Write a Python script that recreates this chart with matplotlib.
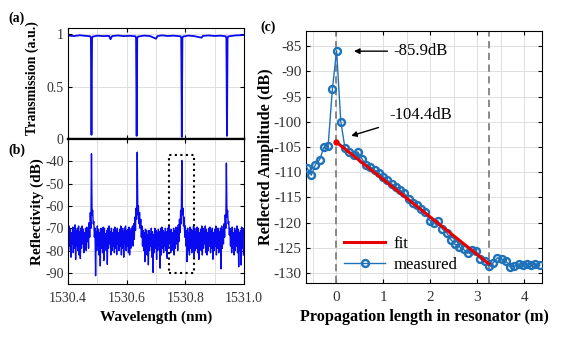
import matplotlib.pyplot as plt
from matplotlib.patches import Rectangle
from matplotlib.ticker import MultipleLocator, NullFormatter

plt.rcParams['font.family'] = ['Liberation Serif', 'DejaVu Serif']
plt.rcParams['axes.unicode_minus'] = False
plt.rcParams['xtick.direction'] = 'in'
plt.rcParams['ytick.direction'] = 'in'

# ---- (a) transmission spectrum ----
trans_wl = [1530.400, 1530.420, 1530.440, 1530.460, 1530.476, 1530.478, 1530.480, 1530.482,
            1530.484, 1530.500, 1530.520, 1530.540, 1530.545, 1530.550, 1530.570, 1530.590,
            1530.610, 1530.630, 1530.632, 1530.634, 1530.636, 1530.638, 1530.660, 1530.680,
            1530.700, 1530.705, 1530.720, 1530.740, 1530.760, 1530.784, 1530.786, 1530.788,
            1530.790, 1530.792, 1530.810, 1530.830, 1530.855, 1530.860, 1530.880, 1530.900,
            1530.920, 1530.938, 1530.940, 1530.942, 1530.944, 1530.946, 1530.970, 1531.000]
trans = [0.985, 0.980, 0.988, 0.982, 0.978, 0.96, 0.04, 0.96,
         0.975, 0.984, 0.980, 0.982, 0.95, 0.980, 0.986, 0.980,
         0.983, 0.978, 0.96, 0.03, 0.96, 0.975, 0.985, 0.980,
         0.955, 0.980, 0.987, 0.981, 0.984, 0.978, 0.96, 0.02,
         0.96, 0.976, 0.985, 0.980, 0.965, 0.982, 0.986, 0.981,
         0.984, 0.978, 0.96, 0.03, 0.96, 0.977, 0.986, 0.990]

# ---- (b) reflection spectrum: upper / lower excursion per 4 pm bin ----
refl_start = 1530.400
refl_step = 0.004
refl_top = [-71, -69, -70.5, -72, -69.5, -70, -68.5, -71, -70, -69,
            -71.5, -70, -69, -70.5, -72, -70, -69.5, -71, -67.5, -63,
            -36.6, -62, -67, -70, -71.5,
            -69, -70.5, -72, -70, -71, -69.5, -70, -72.5, -71, -70, -69, -71.5, -70, -72, -70.5,
            -69.5, -71, -70, -72, -70.5, -69, -70, -71.5, -70, -69, -71, -70.5, -69.5, -71, -70,
            -69, -68, -65, -61, -35.9, -60, -63, -66, -69, -71,
            -72, -70.5, -71, -73, -71, -72.5, -70, -71.5, -73, -70, -71, -72, -70.5, -71.5, -70,
            -69.5, -71, -72, -70, -71.5, -70, -69, -71, -70.5, -72, -70, -71, -69.5, -70, -68.5,
            -66, -62, -39.6, -61, -65,
            -69, -71, -70, -72, -69.5, -70.5, -71, -69, -70, -71.5, -69.5, -70, -72, -70.5, -69,
            -70, -71.5, -69, -70.5, -72, -70, -69.5, -71, -70, -72, -70.5, -69, -71, -70, -71.5,
            -70, -69, -71, -68, -64,
            -40.8,
            -62, -67, -70, -71, -69.5, -72, -70, -71, -69, -70.5, -72, -71, -69.5, -70]
refl_bottom = [-80, -78, -83, -77, -81, -79, -84, -78, -80, -82,
               -83.6, -79, -77, -81, -78, -80, -76, -79, -74, -70,
               -64, -68, -74, -91.3, -80,
               -78, -82, -86.9, -79, -81, -84.5, -78, -80, -86.2, -79, -77, -82, -80, -78, -81,
               -79, -81.9, -77, -80, -78, -82, -79, -83, -77, -80, -78, -81, -82, -79, -77,
               -78, -75, -71, -66, -64, -68, -70, -74, -78, -80,
               -85, -79, -82, -86.4, -80, -78, -83, -89.8, -81, -79, -84, -80, -78, -87.9, -82,
               -79, -81, -78, -80, -83.5, -79, -77, -81, -80, -78, -82, -79, -77, -80, -76,
               -72, -68, -64, -69, -74,
               -78, -85, -80, -82, -79, -81, -78, -83, -80, -79, -81, -84, -78, -80, -82,
               -79, -77, -81, -82, -80, -78, -81, -79, -83.9, -80, -78, -82, -79, -81, -80,
               -88.2, -79, -77, -74, -70,
               -65,
               -68, -73, -78, -81, -79, -82, -80, -78, -81, -87.3, -80, -86.5, -79, -82]

# zoomed resonance (dotted box)
box_wl = [1530.745, 1530.830]
box_db = [-90, -37]

# ---- (c) reflected amplitude vs propagation length ----
meas_x = [-0.62, -0.53, -0.44, -0.35, -0.26, -0.17, -0.08, 0.01, 0.10, 0.19,
          0.28, 0.37, 0.46, 0.55, 0.64, 0.73, 0.82, 0.91, 1.00, 1.09,
          1.18, 1.27, 1.36, 1.45, 1.54, 1.63, 1.72, 1.81, 1.90, 1.99,
          2.08, 2.17, 2.26, 2.35, 2.44, 2.53, 2.62, 2.71, 2.80, 2.89,
          2.98, 3.07, 3.16, 3.25, 3.34, 3.43, 3.52, 3.61, 3.70, 3.79,
          3.88, 3.97, 4.06, 4.15, 4.24, 4.33]
meas_y = [-109.1, -110.6, -108.5, -107.5, -105.1, -104.8, -93.6, -85.9, -100.0, -105.3,
          -106.1, -106.7, -106.0, -107.4, -108.5, -109.0, -109.6, -110.2, -110.9, -111.6,
          -112.3, -113.0, -113.6, -114.2, -115.3, -116.1, -116.6, -117.3, -118.0, -119.6,
          -120.0, -119.7, -121.3, -122.0, -123.4, -124.3, -124.8, -125.3, -126.1, -125.5,
          -125.7, -127.2, -127.7, -128.6, -128.0, -127.0, -127.3, -127.6, -128.8, -128.7,
          -128.2, -128.5, -128.3, -128.4, -128.2, -128.5]
fit_x = [0.0, 3.25]
fit_y = [-104.0, -128.2]
resonator_edges = [0.0, 3.25]

grid_kw = dict(color='#DEDEDE', lw=0.7)
tick_color = '#333333'

fig = plt.figure(figsize=(5.64, 3.37), dpi=100)
ax_a = fig.add_axes([0.1206, 0.5875, 0.312, 0.3294])
ax_b = fig.add_axes([0.1206, 0.1573, 0.312, 0.4303])
ax_c = fig.add_axes([0.5426, 0.1602, 0.4184, 0.7478])

# (a)
ax_a.plot(trans_wl, trans, color='#0A0AF0', lw=1.3)
ax_a.set_xlim(1530.4, 1531.0)
ax_a.set_ylim(0, 1.057)
ax_a.set_yticks([0, 0.5, 1])
ax_a.set_yticklabels(['0', '0.5', '1'])
ax_a.xaxis.set_major_locator(MultipleLocator(0.2))
ax_a.xaxis.set_minor_locator(MultipleLocator(0.1))
ax_a.xaxis.set_major_formatter(NullFormatter())
ax_a.set_ylabel('Transmission (a.u.)', fontsize=10, fontweight='bold')
ax_a.yaxis.set_label_coords(-0.165, 0.545)

# (b)
refl_wl, refl_db = [], []
for i, (hi, lo) in enumerate(zip(refl_top, refl_bottom)):
    w = refl_start + i * refl_step
    refl_wl += [w, w + refl_step / 2]
    refl_db += [hi, lo]
ax_b.plot(refl_wl, refl_db, color='#0A0AF0', lw=1.0)
ax_b.add_patch(Rectangle((box_wl[0], box_db[0]), box_wl[1] - box_wl[0], box_db[1] - box_db[0],
                         fill=False, ls=':', lw=1.5, ec='black'))
ax_b.set_xlim(1530.4, 1531.0)
ax_b.set_ylim(-95, -30)
ax_b.set_yticks(range(-90, -39, 10))
ax_b.xaxis.set_minor_locator(MultipleLocator(0.1))
ax_b.set_xticks([1530.4, 1530.6, 1530.8, 1531.0])
ax_b.set_xticklabels(['1530.4', '1530.6', '1530.8', '1531.0'])
ax_b.set_ylabel('Reflectivity (dB)', fontsize=11, fontweight='bold', labelpad=1)
ax_b.set_xlabel('Wavelength (nm)', fontsize=11, fontweight='bold', labelpad=4)

for ax in (ax_a, ax_b):
    ax.grid(True, which='both', **grid_kw)
    ax.set_axisbelow(True)

# (c)
for xe in resonator_edges:
    ax_c.axvline(xe, color='#808080', ls=(0, (4, 2.5)), lw=1.3, zorder=2)
ax_c.plot(fit_x, fit_y, color='#E80000', lw=2.2, label='fit', zorder=4)
ax_c.plot(fit_x[:1], fit_y[:1], 'o', color='#E80000', ms=3.5, zorder=5)
ax_c.plot(meas_x, meas_y, '-o', color='#1F72B8', lw=1.0, ms=5, mfc='none', mew=1.7,
          label='measured', zorder=3)
ax_c.set_xlim(-0.64, 4.38)
ax_c.set_ylim(-132, -82)
ax_c.set_xticks([0, 1, 2, 3, 4])
ax_c.xaxis.set_minor_locator(MultipleLocator(0.5))
ax_c.set_yticks(range(-130, -84, 5))
ax_c.grid(True, which='both', **grid_kw)
ax_c.set_axisbelow(True)
ax_c.set_xlabel('Propagation length in resonator (m)', fontsize=11.7, fontweight='bold', labelpad=3)
ax_c.set_ylabel('Reflected Amplitude (dB)', fontsize=11.7, fontweight='bold', labelpad=0)

ax_c.annotate('-85.9dB', xy=(0.38, -86.0), xytext=(1.21, -86.0), fontsize=12, va='center',
              arrowprops=dict(arrowstyle='-|>', color='black', lw=1, mutation_scale=8,
                              shrinkA=2, shrinkB=0))
ax_c.annotate('-104.4dB', xy=(0.32, -102.8), xytext=(1.13, -98.6), fontsize=12, va='center',
              arrowprops=dict(arrowstyle='-|>', color='black', lw=1, mutation_scale=8,
                              shrinkA=6, shrinkB=0))

handles, labels = ax_c.get_legend_handles_labels()
ax_c.legend(handles, labels, loc='lower left', bbox_to_anchor=(0.16, 0.04), frameon=False,
            fontsize=12, handlelength=2.5, handletextpad=0.5, borderpad=0, borderaxespad=0,
            labelspacing=0.3)

for ax, size in ((ax_a, 10), (ax_b, 10), (ax_c, 11)):
    ax.tick_params(which='major', length=3, width=0.8, top=True, right=True,
                   labelsize=size, labelcolor=tick_color)
    ax.tick_params(which='minor', length=0, top=True, right=True)
    ax.tick_params(axis='x', pad=6)
    ax.tick_params(axis='y', pad=3)
    for sp in ax.spines.values():
        sp.set_color('black')
ax_a.spines['bottom'].set_linewidth(1.6)
ax_b.spines['top'].set_linewidth(1.6)

fig.text(0.030, 0.946, '(a)', fontsize=10, fontweight='bold', va='center', ha='center')
fig.text(0.030, 0.555, '(b)', fontsize=10, fontweight='bold', va='center', ha='center')
fig.text(0.476, 0.919, '(c)', fontsize=10, fontweight='bold', va='center', ha='center')

fig.savefig('out.png', dpi=100)
